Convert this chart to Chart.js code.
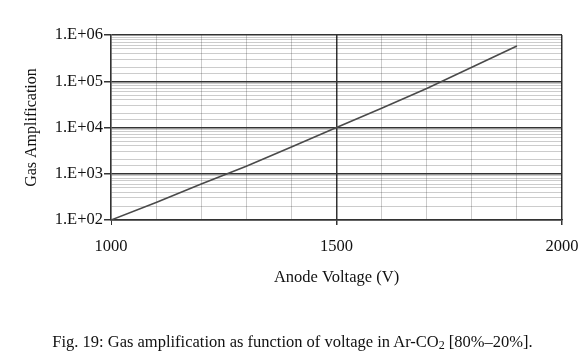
<!DOCTYPE html>
<html>
<head>
<meta charset="utf-8">
<script src="https://cdn.jsdelivr.net/npm/chart.js@4.4.1/dist/chart.umd.min.js"></script>
<style>
  body { margin: 0; background: #fff; }
  #wrap { position: relative; width: 585px; height: 360px; }
  #caption {
    position: absolute; left: 0; top: 332px; width: 585px; text-align: center;
    font-family: "Liberation Serif", serif; font-size: 16.5px; color: #111;
  }
  #caption sub { font-size: 12px; vertical-align: -2px; }
</style>
</head>
<body>
<div id="wrap">
  <canvas id="myChart" width="585" height="360"></canvas>
  <div id="caption">Fig. 19: Gas amplification as function of voltage in Ar-CO<sub>2</sub> [80%–20%].</div>
</div>
<script>
"use strict";

// values
var voltages = [1000, 1100, 1200, 1300, 1400, 1500, 1600, 1700, 1800, 1900];
var amplification = [100, 240, 600, 1450, 3800, 10000, 26000, 70000, 200000, 580000];
var xLabels = [1000, 1500, 2000];
var yLabels = ["1.E+02", "1.E+03", "1.E+04", "1.E+05", "1.E+06"];

var dark = "#333";
var light = "rgba(0,0,0,0.2)";
var serif = "'Liberation Serif', 'Times New Roman', serif";

function isDecade(v) {
  var e = Math.log10(v);
  return Math.abs(e - Math.round(e)) < 1e-9;
}

var points = [];
for (var i = 0; i < voltages.length; i++) {
  points.push({ x: voltages[i], y: amplification[i] });
}

var ctx = document.getElementById("myChart").getContext("2d");
var chart = new Chart(ctx, {
  type: "line",
  data: {
    datasets: [{
      data: points,
      borderColor: "#4a4a4a",
      borderWidth: 1.6,
      pointRadius: 0,
      fill: false,
      tension: 0
    }]
  },
  options: {
    responsive: false,
    animation: false,
    layout: { padding: { left: 0, top: 35, right: 23, bottom: 70 } },
    plugins: { legend: { display: false }, tooltip: { enabled: false } },
    scales: {
      x: {
        type: "linear",
        min: 1000,
        max: 2000,
        afterFit: function(scale) {
          scale.height = 70;
          scale.paddingLeft = 0;
          scale.paddingRight = 0;
        },
        afterBuildTicks: function(scale) {
          var t = [];
          for (var v = 1000; v <= 2000; v += 100) t.push({ value: v });
          scale.ticks = t;
        },
        border: { display: true, color: dark, width: 1.5 },
        grid: {
          color: function(c) {
            var v = c.tick ? c.tick.value : 0;
            return (v === 1500 || v === 2000) ? dark : light;
          },
          lineWidth: function(c) {
            var v = c.tick ? c.tick.value : 0;
            return (v === 1500 || v === 2000) ? 1.5 : 1;
          },
          tickColor: function(c) {
            var v = c.tick ? c.tick.value : 0;
            return xLabels.indexOf(v) >= 0 ? dark : "rgba(0,0,0,0)";
          },
          tickLength: 5
        },
        ticks: {
          autoSkip: false,
          maxRotation: 0,
          padding: 12,
          color: "#111",
          font: { family: serif, size: 16.5 },
          callback: function(v) { return xLabels.indexOf(v) >= 0 ? String(v) : ""; }
        },
        title: {
          display: true,
          text: "Anode Voltage (V)",
          color: "#111",
          font: { family: serif, size: 16.5 },
          padding: { top: 0, bottom: 2 }
        }
      },
      y: {
        type: "logarithmic",
        min: 100,
        max: 1000000,
        afterFit: function(scale) { scale.width = 111; },
        border: { display: true, color: dark, width: 1.5 },
        grid: {
          color: function(c) {
            return c.tick && isDecade(c.tick.value) ? dark : light;
          },
          lineWidth: function(c) {
            return c.tick && isDecade(c.tick.value) ? 1.5 : 1;
          },
          tickColor: function(c) {
            return c.tick && isDecade(c.tick.value) ? dark : "rgba(0,0,0,0)";
          },
          tickLength: 7
        },
        ticks: {
          autoSkip: false,
          padding: 1,
          color: "#111",
          font: { family: serif, size: 16.5 },
          callback: function(v) {
            if (!isDecade(v)) return "";
            var idx = Math.round(Math.log10(v)) - 2;
            return yLabels[idx];
          }
        },
        title: {
          display: true,
          text: "Gas Amplification",
          color: "#111",
          font: { family: serif, size: 16 },
          padding: { top: 22, bottom: 0 }
        }
      }
    }
  }
});
</script>
</body>
</html>
